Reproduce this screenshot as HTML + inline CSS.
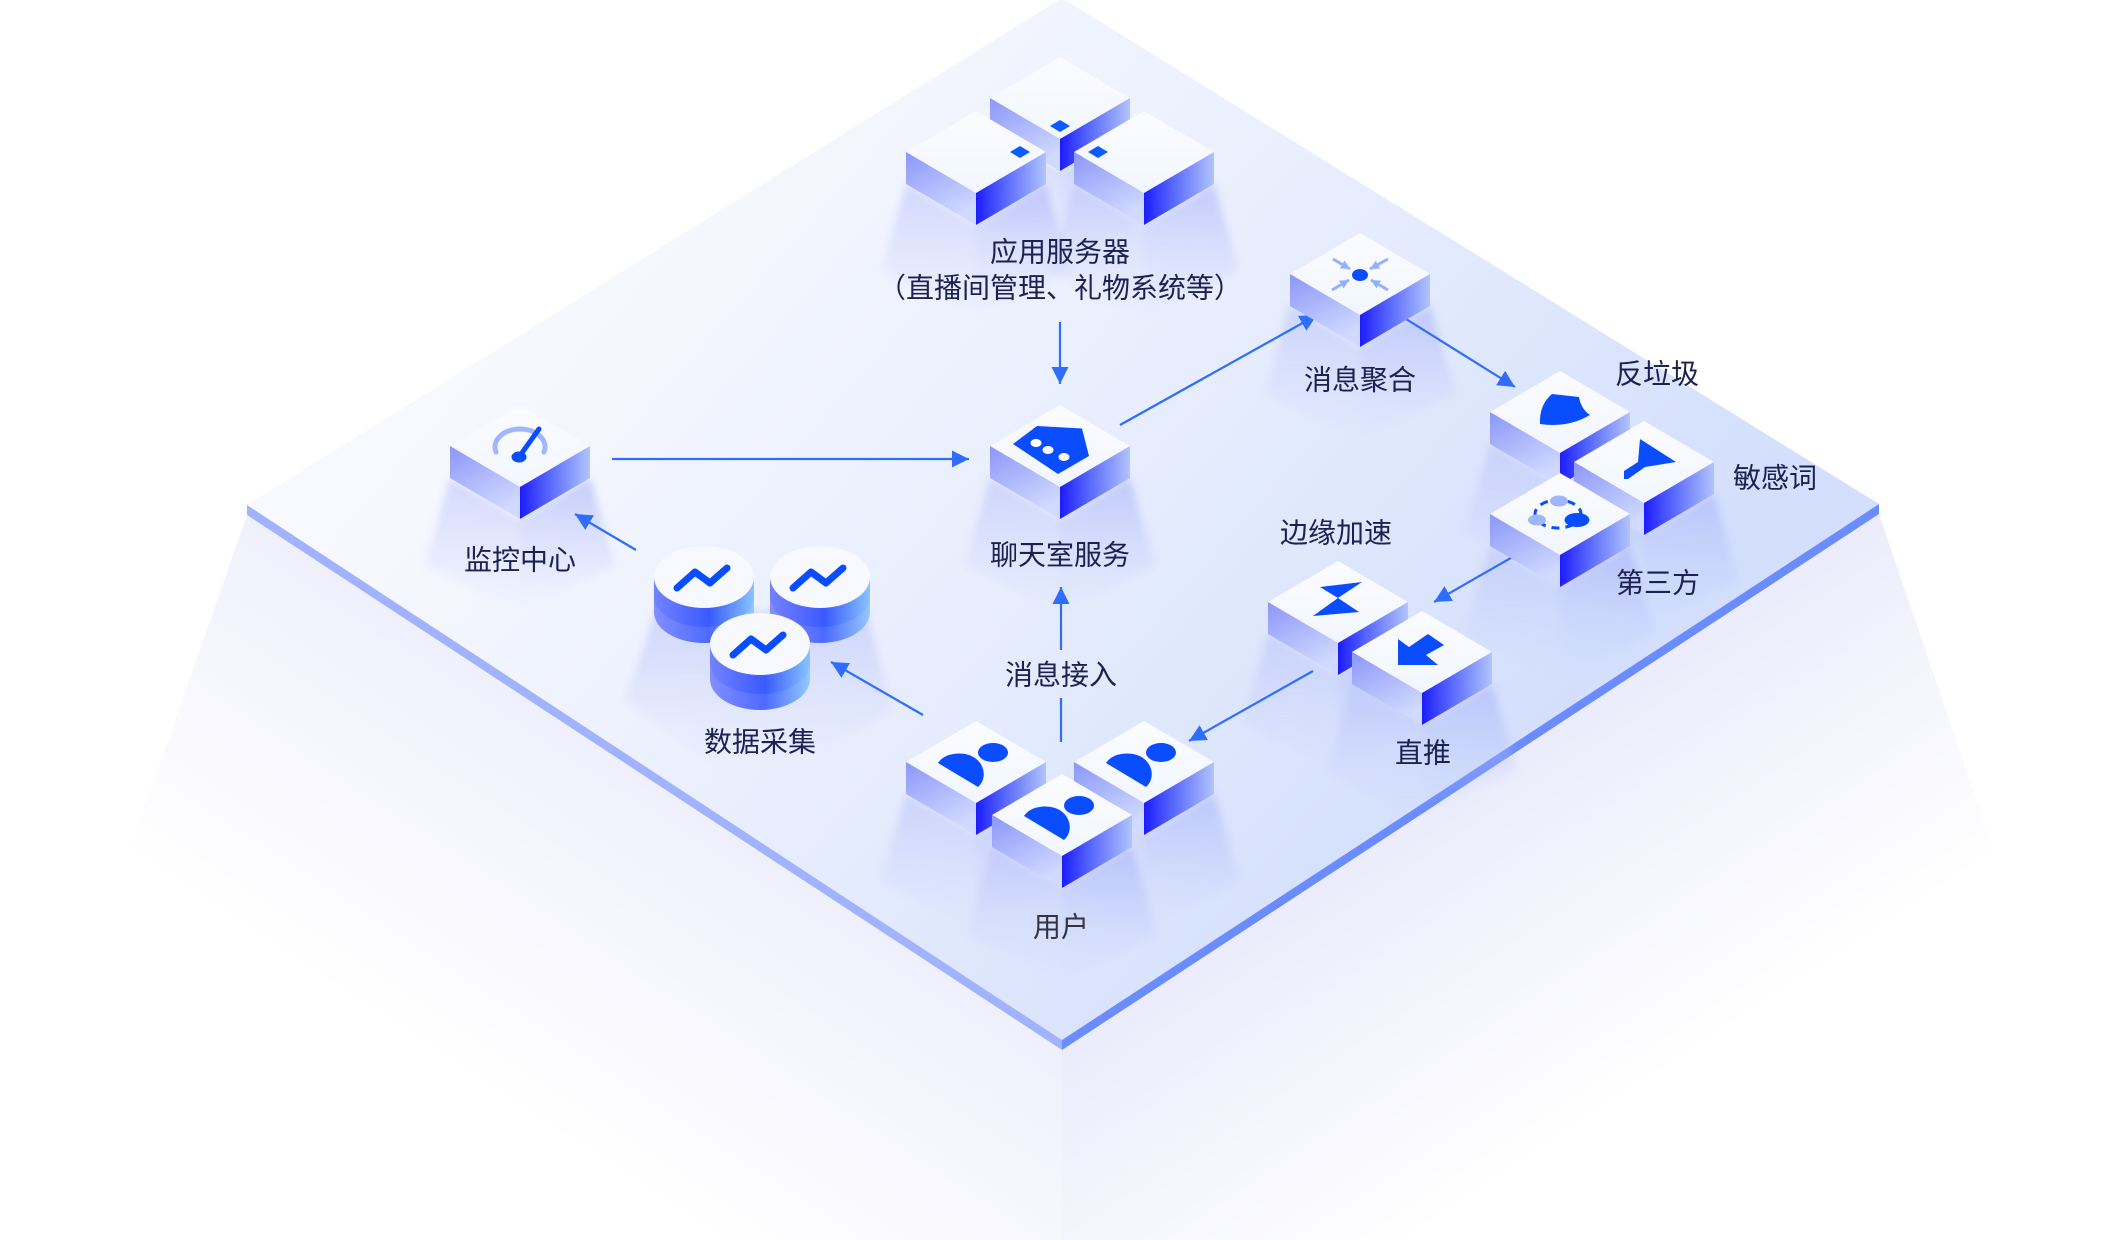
<!DOCTYPE html>
<html>
<head>
<meta charset="utf-8">
<style>
html,body{margin:0;padding:0;background:#fff;width:2126px;height:1240px;overflow:hidden;}
svg{display:block;}
.t{font-family:"Liberation Sans","Noto Sans CJK SC",sans-serif;font-size:28px;fill:#1b2150;text-anchor:middle;dominant-baseline:central;}
</style>
</head>
<body>
<svg xmlns="http://www.w3.org/2000/svg" xmlns:xlink="http://www.w3.org/1999/xlink" width="2126" height="1240" viewBox="0 0 2126 1240">
<defs>
  <linearGradient id="pt" gradientUnits="userSpaceOnUse" x1="600" y1="200" x2="1400" y2="900">
    <stop offset="0" stop-color="#f8f9ff"/>
    <stop offset="0.5" stop-color="#e8eefd"/>
    <stop offset="1" stop-color="#d3dffc"/>
  </linearGradient>
  <linearGradient id="pgL" gradientUnits="userSpaceOnUse" x1="655" y1="778" x2="460" y2="1075">
    <stop offset="0" stop-color="#f0f0fd"/>
    <stop offset="1" stop-color="#ffffff"/>
  </linearGradient>
  <linearGradient id="pgR" gradientUnits="userSpaceOnUse" x1="1470" y1="777" x2="1665" y2="1074">
    <stop offset="0" stop-color="#ebecfc"/>
    <stop offset="1" stop-color="#ffffff"/>
  </linearGradient>
  <linearGradient id="ct" x1="0" y1="0" x2="0" y2="1">
    <stop offset="0" stop-color="#fbfcff"/>
    <stop offset="1" stop-color="#f2f6ff"/>
  </linearGradient>
  <linearGradient id="cl" x1="0" y1="0" x2="0.5" y2="1">
    <stop offset="0" stop-color="#8b96f9"/>
    <stop offset="1" stop-color="#d0d9fe"/>
  </linearGradient>
  <linearGradient id="cr" x1="0" y1="0" x2="1" y2="0">
    <stop offset="0" stop-color="#1c1cff"/>
    <stop offset="0.4" stop-color="#5565ff"/>
    <stop offset="1" stop-color="#b2c4fc"/>
  </linearGradient>
  <linearGradient id="cgL" x1="0" y1="0" x2="0" y2="1">
    <stop offset="0" stop-color="#b9c2fa" stop-opacity="0.6"/>
    <stop offset="1" stop-color="#c8d0fc" stop-opacity="0"/>
  </linearGradient>
  <linearGradient id="cgR" x1="0" y1="0" x2="0" y2="1">
    <stop offset="0" stop-color="#aab5fa" stop-opacity="0.65"/>
    <stop offset="1" stop-color="#c0c9fc" stop-opacity="0"/>
  </linearGradient>
  <linearGradient id="cys" x1="0" y1="0" x2="1" y2="0">
    <stop offset="0" stop-color="#7382ff"/>
    <stop offset="0.55" stop-color="#3a5aff"/>
    <stop offset="1" stop-color="#88c4ff"/>
  </linearGradient>
  <filter id="blur" x="-20%" y="-20%" width="140%" height="140%">
    <feGaussianBlur stdDeviation="4"/>
  </filter>
  <marker id="ah" markerUnits="userSpaceOnUse" markerWidth="18" markerHeight="18" refX="17" refY="8.5" orient="auto">
    <path d="M0,0 L17,8.5 L0,17 Z" fill="#2f6dff"/>
  </marker>
  <marker id="ah2" markerUnits="userSpaceOnUse" markerWidth="10" markerHeight="10" refX="9" refY="4.5" orient="auto">
    <path d="M0,0 L9,4.5 L0,9 Z" fill="#93b1ff"/>
  </marker>

  <g id="cube">
    <polygon points="0,0 70,41 0,82 -70,41" fill="url(#ct)"/>
    <polygon points="-70,41 0,82 0,114 -70,73" fill="url(#cl)"/>
    <polygon points="0,82 70,41 70,73 0,114" fill="url(#cr)"/>
  </g>
  <g id="cg">
    <polygon points="-70,73 0,114 0,205 -95,160" fill="url(#cgL)"/>
    <polygon points="0,114 70,73 95,160 0,205" fill="url(#cgR)"/>
  </g>
  <g id="cyl">
    <path d="M-50,0 L-50,35 A50,31 0 0 0 50,35 L50,0 Z" fill="url(#cys)"/>
    <path d="M-50,19 A50,31 0 0 0 50,19 L50,35 A50,31 0 0 1 -50,35 Z" fill="#ffffff" fill-opacity="0.1"/>
    <ellipse cx="0" cy="0" rx="50" ry="31" fill="#f7f9ff"/>
    <polyline points="-27,11 -9,-5 6,6 23,-9" fill="none" stroke="#0a4dff" stroke-width="7" stroke-linecap="round" stroke-linejoin="round"/>
  </g>
</defs>

<rect x="0" y="0" width="2126" height="1240" fill="#ffffff"/>

<!-- glow under plate -->
<polygon points="247,515 1062,1050 1062,1240 0,1240 0,1221" fill="url(#pgL)"/>
<polygon points="1062,1050 1879,514 2126,1240 1062,1240" fill="url(#pgR)"/>

<!-- plate -->
<polygon points="1062,-2 1879,504 1062,1040 247,505" fill="url(#pt)"/>
<polygon points="247,505 1062,1040 1062,1050 247,515" fill="#a1b3fe"/>
<polygon points="1062,1040 1879,504 1879,514 1062,1050" fill="#6b8cff"/>

<!-- cube glows -->
<g filter="url(#blur)">
<use xlink:href="#cg" href="#cg" x="1060" y="57"/>
<use xlink:href="#cg" href="#cg" x="976" y="111"/>
<use xlink:href="#cg" href="#cg" x="1144" y="111"/>
<use xlink:href="#cg" href="#cg" x="1060" y="405"/>
<use xlink:href="#cg" href="#cg" x="520" y="405"/>
<use xlink:href="#cg" href="#cg" x="1360" y="233"/>
<use xlink:href="#cg" href="#cg" x="1560" y="371"/>
<use xlink:href="#cg" href="#cg" x="1644" y="421"/>
<use xlink:href="#cg" href="#cg" x="1560" y="473"/>
<use xlink:href="#cg" href="#cg" x="1338" y="561"/>
<use xlink:href="#cg" href="#cg" x="1422" y="611"/>
<use xlink:href="#cg" href="#cg" x="976" y="721"/>
<use xlink:href="#cg" href="#cg" x="1144" y="721"/>
<use xlink:href="#cg" href="#cg" x="1062" y="774"/>
<polygon points="656,612 866,612 893,710 800,762 710,762 625,700" fill="url(#cgL)"/>
</g>

<!-- connectors -->
<g stroke="#2f6dff" stroke-width="2.2" fill="none">
  <line x1="1060" y1="322" x2="1060" y2="384" marker-end="url(#ah)"/>
  <line x1="612" y1="459" x2="969" y2="459" marker-end="url(#ah)"/>
  <line x1="636" y1="550" x2="575" y2="514" marker-end="url(#ah)"/>
  <line x1="923" y1="715" x2="831" y2="662" marker-end="url(#ah)"/>
  <line x1="1061" y1="742" x2="1061" y2="698"/>
  <line x1="1061" y1="650" x2="1061" y2="587" marker-end="url(#ah)"/>
  <line x1="1120" y1="425" x2="1317" y2="315" marker-end="url(#ah)"/>
  <line x1="1398" y1="314" x2="1515" y2="387" marker-end="url(#ah)"/>
  <line x1="1523" y1="551" x2="1434" y2="602" marker-end="url(#ah)"/>
  <line x1="1313" y1="671" x2="1189" y2="741" marker-end="url(#ah)"/>
</g>

<!-- app servers -->
<use xlink:href="#cube" href="#cube" x="1060" y="57"/>
<polygon points="1050,126 1060,120 1070,126 1060,132" fill="#0a5cff"/>
<use xlink:href="#cube" href="#cube" x="976" y="111"/>
<use xlink:href="#cube" href="#cube" x="1144" y="111"/>
<polygon points="1010,152 1020,146 1030,152 1020,158" fill="#0a5cff"/>
<polygon points="1088,152 1098,146 1108,152 1098,158" fill="#0a5cff"/>

<!-- monitor -->
<use xlink:href="#cube" href="#cube" x="520" y="405"/>
<path d="M496,452 A25,18 0 1 1 544,452" fill="none" stroke="#a0b6ff" stroke-width="5" stroke-linecap="round"/>
<line x1="519" y1="457" x2="539" y2="429" stroke="#0a4dff" stroke-width="5" stroke-linecap="round"/>
<ellipse cx="519" cy="457" rx="7.5" ry="5.5" fill="#0a4dff"/>

<!-- chat -->
<use xlink:href="#cube" href="#cube" x="1060" y="405"/>
<polygon points="1013,444 1037,426 1082,428.5 1089,456 1058,474" fill="#0a4dff"/>
<ellipse cx="1036" cy="443" rx="5.5" ry="4" fill="#ffffff"/>
<ellipse cx="1048" cy="450" rx="5.5" ry="4" fill="#ffffff"/>
<ellipse cx="1064" cy="457" rx="5.5" ry="4" fill="#ffffff"/>

<!-- aggregation -->
<use xlink:href="#cube" href="#cube" x="1360" y="233"/>
<g stroke="#93b1ff" stroke-width="3" fill="none">
  <line x1="1333" y1="259" x2="1350" y2="269" marker-end="url(#ah2)"/>
  <line x1="1388" y1="259" x2="1370" y2="269" marker-end="url(#ah2)"/>
  <line x1="1332" y1="290" x2="1349" y2="280" marker-end="url(#ah2)"/>
  <line x1="1388" y1="290" x2="1371" y2="280" marker-end="url(#ah2)"/>
</g>
<ellipse cx="1360" cy="275" rx="8" ry="6" fill="#0a4dff"/>

<!-- anti-spam / sensitive / third party -->
<use xlink:href="#cube" href="#cube" x="1560" y="371"/>
<path d="M1552,394 L1579,397 Q1581,409 1590,415 Q1568,428 1540,424 Q1539,405 1552,394 Z" fill="#0a4dff"/>
<use xlink:href="#cube" href="#cube" x="1644" y="421"/>
<polygon points="1640,439 1676,462 1645,467 1628,479 1624,479 1624,471 1638,462" fill="#0a4dff"/>
<use xlink:href="#cube" href="#cube" x="1560" y="473"/>
<ellipse cx="1558" cy="514" rx="23" ry="14" fill="none" stroke="#0a4dff" stroke-width="3" stroke-dasharray="8 6"/>
<ellipse cx="1559" cy="501" rx="9" ry="5.5" fill="#9fb6ff"/>
<ellipse cx="1537" cy="520" rx="9" ry="5.5" fill="#9fb6ff"/>
<ellipse cx="1577" cy="520" rx="12.5" ry="7" fill="#0a4dff"/>

<!-- edge accel / direct push -->
<use xlink:href="#cube" href="#cube" x="1338" y="561"/>
<polygon points="1320,587 1362,582 1338,598" fill="#0a4dff"/>
<polygon points="1338,598 1359,612 1313,616" fill="#0a4dff"/>
<use xlink:href="#cube" href="#cube" x="1422" y="611"/>
<polygon points="1398,639 1409,647 1428,634 1444,645 1426,655 1438,665 1398,665" fill="#0a4dff"/>

<!-- data cylinders -->
<use xlink:href="#cyl" href="#cyl" x="704" y="577"/>
<use xlink:href="#cyl" href="#cyl" x="820" y="577"/>
<use xlink:href="#cyl" href="#cyl" x="760" y="644"/>

<!-- users -->
<use xlink:href="#cube" href="#cube" x="976" y="721"/>
<path d="M938,763 C945,752 965,751 975,758 C985,765 987,779 978,787 Z" fill="#0a4dff"/>
<ellipse cx="993" cy="752.5" rx="15" ry="9.5" fill="#0a4dff"/>
<use xlink:href="#cube" href="#cube" x="1144" y="721"/>
<path d="M1106,763 C1113,752 1133,751 1143,758 C1153,765 1155,779 1146,787 Z" fill="#0a4dff"/>
<ellipse cx="1161" cy="752.5" rx="15" ry="9.5" fill="#0a4dff"/>
<use xlink:href="#cube" href="#cube" x="1062" y="774"/>
<path d="M1024,816 C1031,805 1051,804 1061,811 C1071,818 1073,832 1064,840 Z" fill="#0a4dff"/>
<ellipse cx="1079" cy="805.5" rx="15" ry="9.5" fill="#0a4dff"/>

<!-- labels -->
<text class="t" x="1060" y="252">应用服务器</text>
<text class="t" x="1060" y="288">（直播间管理、礼物系统等）</text>
<text class="t" x="1060" y="555">聊天室服务</text>
<text class="t" x="520" y="560">监控中心</text>
<text class="t" x="760" y="742">数据采集</text>
<text class="t" x="1061" y="675">消息接入</text>
<text class="t" x="1061" y="927" style="fill:#33343f">用户</text>
<text class="t" x="1360" y="380">消息聚合</text>
<text class="t" x="1657" y="374">反垃圾</text>
<text class="t" x="1775" y="478">敏感词</text>
<text class="t" x="1658" y="583">第三方</text>
<text class="t" x="1336" y="533">边缘加速</text>
<text class="t" x="1423" y="753">直推</text>
</svg>
</body>
</html>
